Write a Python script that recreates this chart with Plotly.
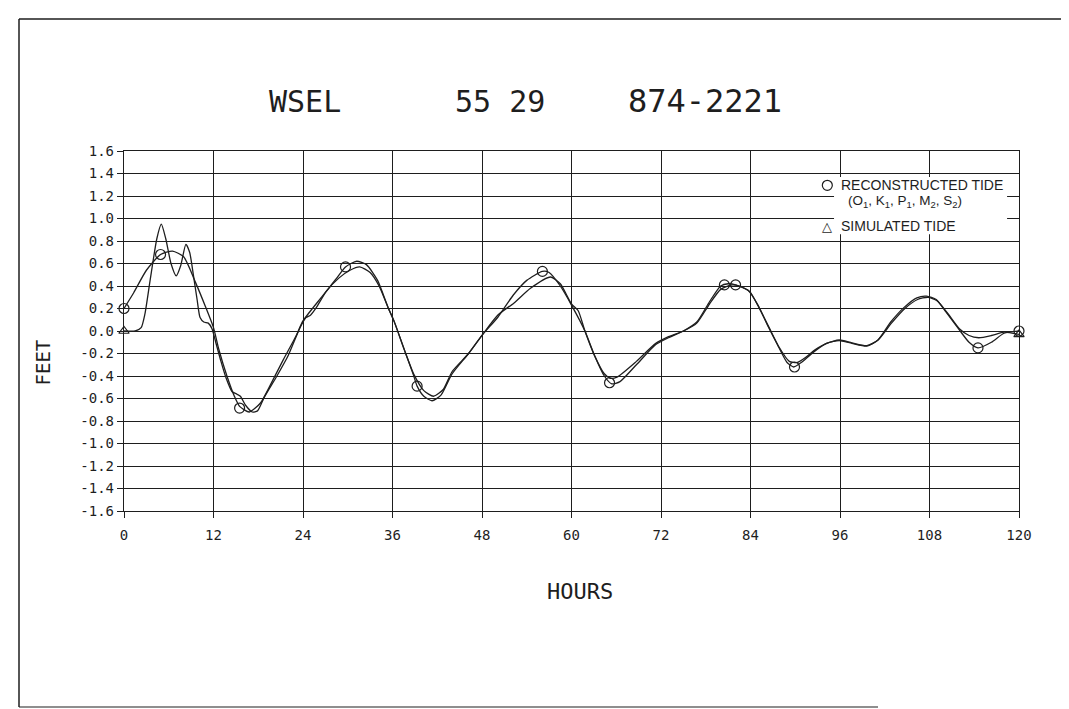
import plotly.graph_objects as go

# ---------------- data ----------------
recon_hours = [0, 1.3, 3.0, 4.9, 6.5, 8.0, 9.6, 10.9, 12.0, 12.7, 13.8, 14.8, 15.5, 16.8, 18.3,
               19.7, 21.4, 23.1, 24.0, 26.6, 28.4, 29.7, 31.2, 32.5, 34.0, 35.4, 36.2, 37.5,
               38.8, 39.3, 40.2, 41.3, 42.5, 44.0, 46.2, 48.1, 50.1, 52.2, 54.0, 56.1, 57.0,
               58.5, 60.0, 61.8, 63.1, 64.4, 65.4, 66.5, 68.7, 71.3, 73.0, 75.0, 76.8, 78.5,
               80.0, 81.0, 82.0, 83.7, 85.0, 86.3, 87.6, 88.9, 89.8, 90.8, 92.4, 94.2, 95.9,
               97.6, 99.6, 101.1, 102.8, 104.6, 106.3, 107.6, 108.9, 110.2, 112.0, 113.3,
               114.5, 116.3, 118.0, 120.0]
recon_feet = [0.20, 0.34, 0.54, 0.68, 0.71, 0.66, 0.43, 0.22, 0.03, -0.16, -0.40, -0.58, -0.67,
              -0.72, -0.64, -0.47, -0.25, -0.04, 0.09, 0.31, 0.46, 0.57, 0.62, 0.59, 0.45, 0.21,
              0.09, -0.15, -0.39, -0.49, -0.58, -0.62, -0.57, -0.38, -0.20, -0.03, 0.12, 0.32,
              0.45, 0.53, 0.52, 0.40, 0.23, 0.00, -0.22, -0.40, -0.47, -0.45, -0.30, -0.12,
              -0.06, 0.00, 0.08, 0.26, 0.40, 0.42, 0.41, 0.36, 0.23, 0.05, -0.12, -0.28, -0.32,
              -0.28, -0.19, -0.11, -0.08, -0.105, -0.13, -0.08, 0.08, 0.21, 0.295, 0.31, 0.28,
              0.17, 0.01, -0.10, -0.15, -0.10, -0.02, 0.00]

sim_hours = [0, 1.5, 2.3, 2.8, 3.5, 4.4, 5.0, 5.6, 6.3, 7.0, 7.6, 8.3, 8.8, 9.3, 9.8, 10.2, 10.7,
             11.3, 11.8, 12.3, 13.0, 13.7, 14.5, 15.1, 15.6, 16.3, 17.2, 17.9, 18.8, 20.5, 22.0,
             23.6, 24.4, 25.0, 25.8, 27.1, 28.8, 30.3, 31.6, 33.0, 34.2, 35.4, 36.3, 37.6, 38.9,
             40.2, 41.5, 42.8, 44.0, 46.2, 48.1, 50.1, 52.3, 54.5, 57.2, 58.5, 60.0, 60.9, 61.8,
             63.1, 64.4, 65.2, 66.1, 68.7, 71.3, 73.0, 75.0, 76.8, 78.5, 80.0, 81.5, 82.5, 83.9,
             85.2, 86.5, 87.8, 89.2, 90.3, 91.5, 92.6, 94.2, 95.9, 97.6, 99.6, 101.1, 102.9,
             104.7, 106.4, 107.8, 109.0, 110.4, 112.0, 113.3, 114.6, 116.3, 118.0, 120.0]
sim_feet = [0.0, 0.0, 0.03, 0.15, 0.45, 0.82, 0.95, 0.82, 0.60, 0.49, 0.58, 0.77, 0.70, 0.50, 0.28,
            0.12, 0.08, 0.07, 0.02, -0.10, -0.27, -0.42, -0.54, -0.56, -0.58, -0.66, -0.72, -0.71,
            -0.59, -0.40, -0.22, 0.03, 0.12, 0.14, 0.21, 0.35, 0.47, 0.54, 0.57, 0.52, 0.40, 0.21,
            0.07, -0.17, -0.39, -0.53, -0.58, -0.52, -0.36, -0.20, -0.03, 0.14, 0.25, 0.38, 0.48,
            0.42, 0.24, 0.18, 0.00, -0.22, -0.38, -0.42, -0.41, -0.27, -0.11, -0.05, 0.00, 0.07,
            0.24, 0.37, 0.41, 0.40, 0.35, 0.20, 0.03, -0.14, -0.27, -0.28, -0.23, -0.17, -0.11,
            -0.085, -0.11, -0.135, -0.08, 0.07, 0.20, 0.28, 0.30, 0.27, 0.16, 0.02, -0.04, -0.06,
            -0.04, -0.01, -0.03]

recon_mark_hours = [0, 4.9, 15.5, 29.7, 39.3, 56.1, 65.1, 80.5, 82.0, 89.9, 114.5, 120]
recon_mark_feet = [0.20, 0.68, -0.685, 0.57, -0.49, 0.53, -0.46, 0.41, 0.41, -0.32, -0.15, 0.0]
sim_mark_hours = [0, 120]
sim_mark_feet = [0.0, -0.03]

x_ticks = [0, 12, 24, 36, 48, 60, 72, 84, 96, 108, 120]
x_labels = [str(v) for v in x_ticks]
y_ticks = [round(-1.6 + 0.2 * i, 1) for i in range(17)]
y_labels = [("%.1f" % v).replace("-0.0", "0.0") for v in y_ticks]

title_parts = ["WSEL", "55 29", "874-2221"]
legend_lines = ["RECONSTRUCTED TIDE",
                "(O<sub>1</sub>, K<sub>1</sub>, P<sub>1</sub>, M<sub>2</sub>, S<sub>2</sub>)",
                "SIMULATED TIDE"]

INK = "#1e1e1e"
MONO = "DejaVu Sans Mono"
SANS = "Liberation Sans, Arial"

W, H = 1069, 709
L, R, T, B = 116, 58, 143, 206
pw, ph = W - L - R, H - T - B


def px(xp):
    return (xp - L) / pw


def py(yp):
    return (H - B - yp) / ph


fig = go.Figure()
fig.add_trace(go.Scatter(x=sim_hours, y=sim_feet, mode="lines",
                         line=dict(color=INK, width=1.3, shape="spline", smoothing=0.6),
                         hoverinfo="skip"))
fig.add_trace(go.Scatter(x=recon_hours, y=recon_feet, mode="lines",
                         line=dict(color=INK, width=1.3, shape="spline", smoothing=0.6),
                         hoverinfo="skip"))
fig.add_trace(go.Scatter(x=recon_mark_hours, y=recon_mark_feet, mode="markers",
                         marker=dict(symbol="circle-open", size=10, color=INK, line=dict(width=1.2)),
                         cliponaxis=False, hoverinfo="skip"))
fig.add_trace(go.Scatter(x=sim_mark_hours, y=sim_mark_feet, mode="markers",
                         marker=dict(symbol="triangle-up-open", size=9, color=INK, line=dict(width=1.2)),
                         cliponaxis=False, hoverinfo="skip"))

axis_common = dict(showgrid=True, gridcolor=INK, gridwidth=1.3, zeroline=False,
                   showline=True, linecolor=INK, linewidth=1.4, mirror=True,
                   ticks="outside", ticklen=6, tickcolor=INK, tickwidth=1.2,
                   tickfont=dict(family=MONO, size=14, color=INK))

fig.update_xaxes(range=[0, 120], tickvals=x_ticks, ticktext=x_labels,
                 ticklabelstandoff=5, **axis_common)
fig.update_yaxes(range=[-1.6, 1.6], tickvals=y_ticks, ticktext=y_labels, **axis_common)

# legend box (white patch over grid)
fig.add_shape(type="rect", xref="x", yref="y", x0=95.2, x1=118.4, y0=0.86, y1=1.37,
              fillcolor="white", line=dict(width=0), layer="between")
fig.add_shape(type="circle", xref="x", yref="y", xsizemode="pixel", ysizemode="pixel",
              xanchor=94.3, yanchor=1.295, x0=-5, x1=5, y0=-5, y1=5,
              line=dict(color=INK, width=1.2), fillcolor="rgba(0,0,0,0)")
fig.add_annotation(xref="x", yref="y", x=94.3, y=0.93, xanchor="center", yanchor="middle",
                   text="\u25B3", showarrow=False, font=dict(family="DejaVu Sans", size=13, color=INK))
fig.add_annotation(xref="x", yref="y", x=95.9, y=1.30, xanchor="left", yanchor="middle",
                   text=legend_lines[0], showarrow=False,
                   font=dict(family=SANS, size=14, color=INK))
fig.add_annotation(xref="x", yref="y", x=96.8, y=1.15, xanchor="left", yanchor="middle",
                   text=legend_lines[1], showarrow=False,
                   font=dict(family=SANS, size=13.5, color=INK))
fig.add_annotation(xref="x", yref="y", x=95.9, y=0.93, xanchor="left", yanchor="middle",
                   text=legend_lines[2], showarrow=False,
                   font=dict(family=SANS, size=14, color=INK))

# title pieces (plotter style)
for txt, xc, fs in zip(title_parts, [297, 492, 697], [30, 30, 32]):
    fig.add_annotation(xref="paper", yref="paper", x=px(xc), y=py(93), text=txt,
                       showarrow=False, xanchor="center", yanchor="middle",
                       font=dict(family=MONO, size=fs, color=INK))

fig.add_annotation(xref="paper", yref="paper", x=px(572), y=py(583), text="HOURS",
                   showarrow=False, xanchor="center", yanchor="middle",
                   font=dict(family=MONO, size=22, color=INK))
fig.add_annotation(xref="paper", yref="paper", x=px(34),
                   y=py(H - B - ph * (1.6 - 0.28) / 3.2),
                   text="FEET", showarrow=False, textangle=-90, xanchor="center", yanchor="middle",
                   font=dict(family=MONO, size=19, color=INK))

# outer page frame
fig.add_shape(type="line", xref="paper", yref="paper", x0=px(11), x1=px(11), y0=py(11), y1=py(699),
              line=dict(color=INK, width=1.5))
fig.add_shape(type="line", xref="paper", yref="paper", x0=px(11), x1=px(1062), y0=py(11), y1=py(11),
              line=dict(color=INK, width=1.5))
fig.add_shape(type="line", xref="paper", yref="paper", x0=px(11), x1=px(870), y0=py(699), y1=py(699),
              line=dict(color=INK, width=1.2))

fig.update_layout(width=W, height=H, autosize=False,
                  margin=dict(l=L, r=R, t=T, b=B),
                  paper_bgcolor="white", plot_bgcolor="white",
                  showlegend=False)

fig.write_html("out.html")
